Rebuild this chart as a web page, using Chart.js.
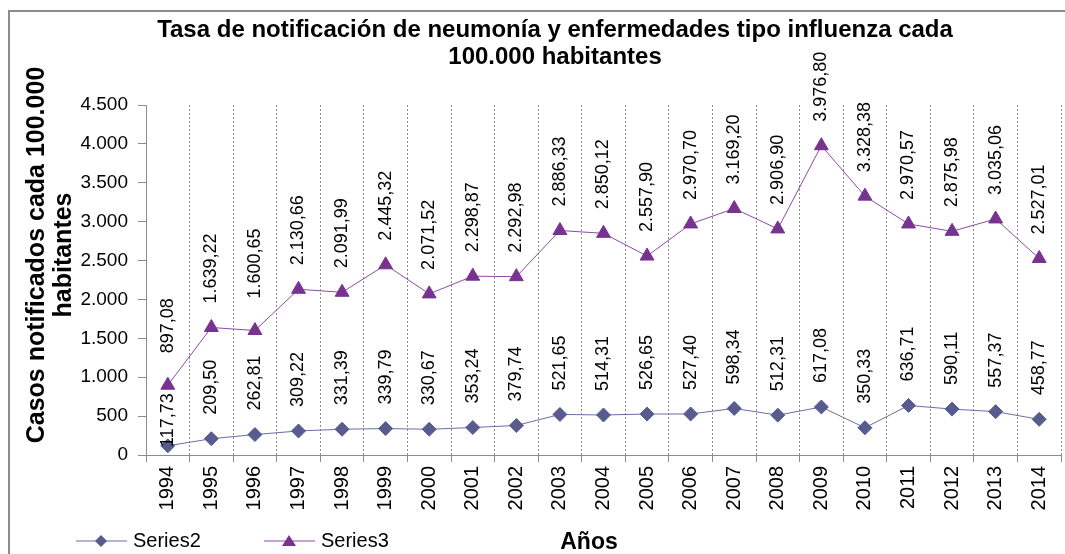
<!DOCTYPE html>
<html>
<head>
<meta charset="utf-8">
<script src="https://cdn.jsdelivr.net/npm/chart.js@4/dist/chart.umd.min.js"></script>
<style>
  html, body { margin: 0; padding: 0; overflow: hidden; background: #fff; }
  #wrap { width: 1070px; height: 554px; }
</style>
</head>
<body>
<div id="wrap"><canvas id="myChart" width="1070" height="554"></canvas></div>
<script>
// data
const years = ['1994', '1995', '1996', '1997', '1998', '1999', '2000', '2001', '2002', '2003', '2004',
  '2005', '2006', '2007', '2008', '2009', '2010', '2011', '2012', '2013', '2014'];
const series2 = [117.73, 209.50, 262.81, 309.22, 331.39, 339.79, 330.67, 353.24, 379.74, 521.65, 514.31,
  526.65, 527.40, 598.34, 512.31, 617.08, 350.33, 636.71, 590.11, 557.37, 458.77];
const series3 = [897.08, 1639.22, 1600.65, 2130.66, 2091.99, 2445.32, 2071.52, 2298.87, 2292.98, 2886.33, 2850.12,
  2557.90, 2970.70, 3169.20, 2906.90, 3976.80, 3328.38, 2970.57, 2875.98, 3035.06, 2527.01];
const seriesNames = ['Series2', 'Series3'];
const titleLines = ['Tasa de notificación de neumonía y enfermedades tipo influenza cada', '100.000 habitantes'];
const yTitleLines = ['Casos notificados cada 100.000', 'habitantes'];
const xTitle = 'Años';

const FONT = '"Liberation Sans", Arial, sans-serif';
const c2 = '#575B8E', c2line = '#6A6DA3';
const c3 = '#77338F', c3line = '#8C4AA6';

// 1234.5 -> "1.234,50"
function fmt(v, dec) {
  let s = v.toFixed(dec);
  let parts = s.split('.');
  let int = parts[0].replace(/\B(?=(\d{3})+(?!\d))/g, '.');
  return dec > 0 ? int + ',' + parts[1] : int;
}

const extras = {
  id: 'extras',
  afterDatasetsDraw(chart) {
    const ctx = chart.ctx;
    const lower = chart.getDatasetMeta(0).data;
    const upper = chart.getDatasetMeta(1).data;
    ctx.save();
    ctx.font = '18px ' + FONT;
    ctx.fillStyle = '#000';
    ctx.textAlign = 'left';
    ctx.textBaseline = 'middle';
    chart.data.datasets.forEach((ds, i) => {
      chart.getDatasetMeta(i).data.forEach((pt, j) => {
        let txt = fmt(ds.data[j], 2);
        let w = ctx.measureText(txt).width;
        let start = pt.y - 24;
        // keep labels clear of the other series marker (like Excel does)
        if (i == 0 && start - w < upper[j].y + 8) start = upper[j].y + 8 + w;
        if (i == 1 && start > lower[j].y - 24 - w - 40) start -= 8;
        ctx.save();
        ctx.translate(pt.x, start);
        ctx.rotate(-Math.PI / 2);
        ctx.fillText(txt, 0, 0);
        ctx.restore();
      });
    });
    ctx.restore();
  },
  afterDraw(chart) {
    const ctx = chart.ctx;
    ctx.save();
    // outer frame
    ctx.strokeStyle = '#8c8c8c';
    ctx.lineWidth = 2;
    ctx.beginPath();
    ctx.moveTo(9, 560);
    ctx.lineTo(9, 11);
    ctx.lineTo(1075, 11);
    ctx.stroke();

    ctx.fillStyle = '#000';
    ctx.textAlign = 'center';
    ctx.textBaseline = 'middle';
    ctx.font = 'bold 24px ' + FONT;
    ctx.fillText(titleLines[0], 555, 30);
    ctx.fillText(titleLines[1], 555, 57);

    ctx.save();
    ctx.translate(37, 255);
    ctx.rotate(-Math.PI / 2);
    ctx.font = 'bold 25px ' + FONT;
    ctx.fillText(yTitleLines[0], 0, 0);
    ctx.fillText(yTitleLines[1], 0, 27);
    ctx.restore();

    ctx.font = 'bold 23px ' + FONT;
    ctx.fillText(xTitle, 589, 543);

    // legend
    const items = [
      { x: 76, color: c2, line: c2line, style: 'diamond' },
      { x: 264, color: c3, line: c3line, style: 'triangle' }
    ];
    items.forEach((it, i) => {
      const y = 541;
      ctx.strokeStyle = it.line;
      ctx.lineWidth = 1;
      ctx.beginPath();
      ctx.moveTo(it.x, y);
      ctx.lineTo(it.x + 51, y);
      ctx.stroke();
      ctx.fillStyle = it.color;
      const mx = it.x + 25;
      ctx.beginPath();
      if (it.style == 'diamond') {
        ctx.moveTo(mx, y - 6); ctx.lineTo(mx + 6, y); ctx.lineTo(mx, y + 6); ctx.lineTo(mx - 6, y);
      } else {
        ctx.moveTo(mx, y - 6); ctx.lineTo(mx + 7, y + 5); ctx.lineTo(mx - 7, y + 5);
      }
      ctx.closePath();
      ctx.fill();
      ctx.fillStyle = '#000';
      ctx.textAlign = 'left';
      ctx.font = '20px ' + FONT;
      ctx.fillText(seriesNames[i], it.x + 57, y);
    });
    ctx.restore();
  }
};

new Chart(document.getElementById('myChart'), {
  type: 'line',
  data: {
    labels: years,
    datasets: [{
      label: seriesNames[0],
      data: series2,
      borderColor: c2line,
      borderWidth: 1,
      pointStyle: 'rectRot',
      pointRadius: 7,
      pointBackgroundColor: c2,
      pointBorderColor: c2,
      tension: 0
    }, {
      label: seriesNames[1],
      data: series3,
      borderColor: c3line,
      borderWidth: 1,
      pointStyle: 'triangle',
      pointRadius: 8,
      pointBackgroundColor: c3,
      pointBorderColor: c3,
      tension: 0
    }]
  },
  options: {
    responsive: false,
    animation: false,
    layout: { padding: { top: 105, left: 0, right: 0, bottom: 0 } },
    plugins: {
      legend: { display: false },
      title: { display: false },
      tooltip: { enabled: false }
    },
    scales: {
      x: {
        offset: true,
        grid: {
          offset: true,
          color: '#8a8a8a',
          tickColor: '#8c8c8c',
          tickLength: 7
        },
        border: { color: '#8c8c8c', width: 1, dash: [2, 2] },
        ticks: {
          minRotation: 90,
          maxRotation: 90,
          autoSkip: false,
          color: '#000',
          padding: 4,
          font: { family: FONT, size: 20 }
        },
        afterFit(scale) { scale.height = 99; }
      },
      y: {
        min: 0,
        max: 4500,
        ticks: {
          stepSize: 500,
          color: '#000',
          padding: 10,
          font: { family: FONT, size: 19 },
          callback: (v) => fmt(v, 0)
        },
        grid: {
          drawOnChartArea: false,
          tickColor: '#8c8c8c',
          tickLength: 8
        },
        border: { color: '#8c8c8c', width: 1 },
        afterFit(scale) { scale.width = 146; }
      }
    }
  },
  plugins: [extras]
});
</script>
</body>
</html>
